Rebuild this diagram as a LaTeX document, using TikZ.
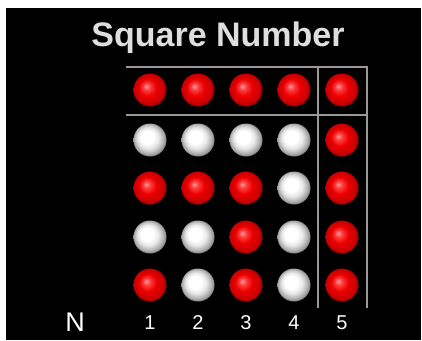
\documentclass[tikz,border=0pt]{standalone}
\usepackage{fontspec}
\setmainfont{Liberation Sans}
\pgfdeclareradialshading{redsphere}{\pgfpoint{-6bp}{6bp}}{%
  color(0bp)=(red!35!white); color(5bp)=(red!75!white); color(13bp)=(red!92!black);
  color(22bp)=(red!80!black); color(27bp)=(red!55!black); color(32bp)=(red!55!black)}
\pgfdeclareradialshading{whitesphere}{\pgfpoint{-6bp}{6bp}}{%
  color(0bp)=(white); color(10bp)=(white); color(16bp)=(black!10);
  color(22bp)=(black!30); color(27bp)=(black!55); color(32bp)=(black!55)}
\begin{document}
\begin{tikzpicture}[x=1pt,y=-1pt,
  redball/.style={circle,minimum size=33pt,inner sep=0pt,shading=redsphere,draw=none},
  whiteball/.style={circle,minimum size=33pt,inner sep=0pt,shading=whitesphere,draw=none},
  gridline/.style={draw=black!40,line width=1.5pt},
  numlabel/.style={text=white,font=\fontsize{20}{22}\selectfont,anchor=center}]
\useasboundingbox (0,0) rectangle (422,340);
\fill[white] (0,0) rectangle (422,340);
\fill[black] (6,8) rectangle (421,340);
\node[text=black!13,font=\bfseries\fontsize{34}{38}\selectfont] (title) at (218,38) {Square Number};
% grid
\coordinate (tl) at (126,67);
\coordinate (tr) at (367,67);
\coordinate (ml) at (126,115);
\coordinate (mr) at (367,115);
\coordinate (vt) at (318,67);
\coordinate (vb) at (318,308);
\coordinate (rb) at (367,308);
\draw[gridline] (tl) -- (tr) -- (rb);
\draw[gridline] (ml) -- (mr);
\draw[gridline] (vt) -- (vb);
% balls
\foreach \c/\x in {1/150,2/198,3/246,4/294,5/342}{
  \node[redball] (b0\c) at (\x,90) {};
}
\foreach \c/\x/\s in {1/150/whiteball,2/198/whiteball,3/246/whiteball,4/294/whiteball,5/342/redball}{
  \node[\s] (b1\c) at (\x,140) {};
}
\foreach \c/\x/\s in {1/150/redball,2/198/redball,3/246/redball,4/294/whiteball,5/342/redball}{
  \node[\s] (b2\c) at (\x,188) {};
}
\foreach \c/\x/\s in {1/150/whiteball,2/198/whiteball,3/246/redball,4/294/whiteball,5/342/redball}{
  \node[\s] (b3\c) at (\x,237) {};
}
\foreach \c/\x/\s in {1/150/redball,2/198/whiteball,3/246/redball,4/294/whiteball,5/342/redball}{
  \node[\s] (b4\c) at (\x,285) {};
}
% labels
\node[numlabel,font=\fontsize{27}{29}\selectfont] (N) at (75,322) {N};
\foreach \c/\x in {1/150,2/198,3/246,4/294,5/342}{
  \node[numlabel] (n\c) at (\x,323) {\c};
}
\end{tikzpicture}
\end{document}
